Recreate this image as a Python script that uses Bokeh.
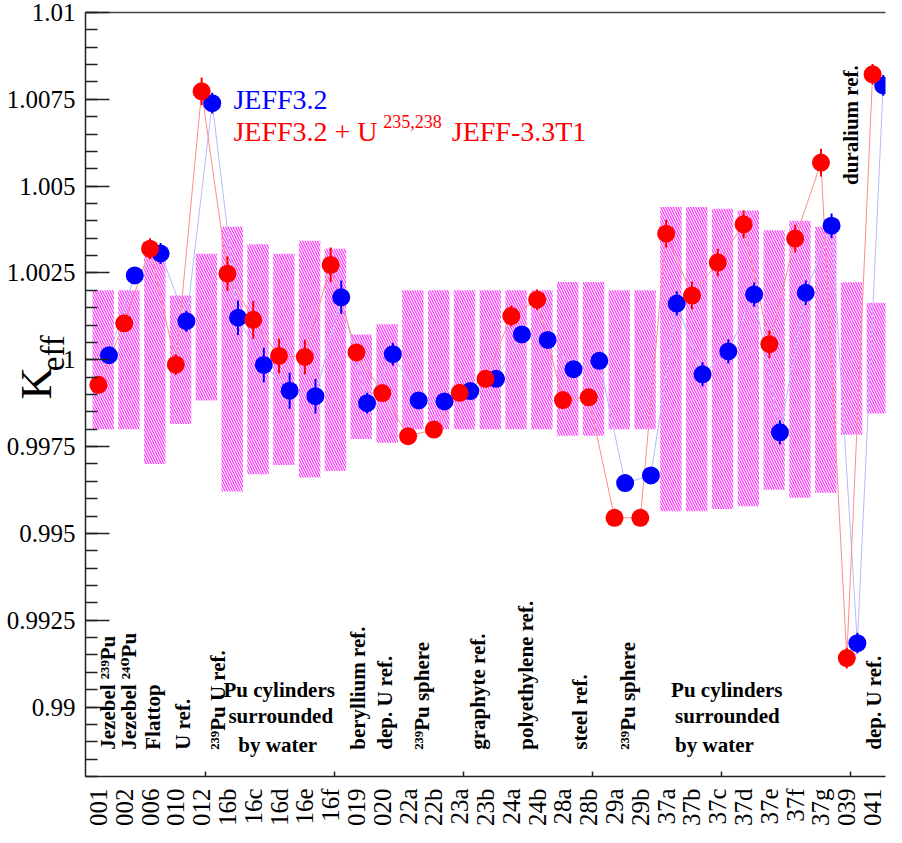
import math
import numpy as np
from bokeh.plotting import figure
from bokeh.models import Range1d, FixedTicker, Label, LinearAxis, ColumnDataSource
from bokeh.embed import file_html
from bokeh.resources import INLINE

# ---------------- data ----------------
cats = ["001", "002", "006", "010", "012", "16b", "16c", "16d", "16e", "16f",
        "019", "020", "22a", "22b", "23a", "23b", "24a", "24b", "28a", "28b",
        "29a", "29b", "37a", "37b", "37c", "37d", "37e", "37f", "37g", "039", "041"]

# JEFF3.2 + U235,238 JEFF-3.3T1 (red)
keff_red = [0.99928, 1.00105, 1.00320, 0.99986, 1.00773, 1.00248, 1.00115, 1.00011, 1.00008, 1.00273,
            1.00021, 0.99904, 0.99780, 0.99799, 0.99905, 0.99945, 1.00126, 1.00173, 0.99884, 0.99892,
            0.99545, 0.99545, 1.00363, 1.00185, 1.00280, 1.00390, 1.00045, 1.00349, 1.00568, 0.99141, 1.00822]
err_red = [0.0002, 0.0002, 0.0003, 0.0003, 0.0004, 0.0005, 0.00055, 0.0005, 0.0005, 0.0005,
           0.00025, 0.0002, 0.0002, 0.0002, 0.0002, 0.0002, 0.0003, 0.0003, 0.00025, 0.00025,
           0.0001, 0.0001, 0.0004, 0.0004, 0.0004, 0.0004, 0.0004, 0.0004, 0.0004, 0.0003, 0.0003]

# JEFF3.2 (blue)
keff_blue = [1.00013, 1.00243, 1.00306, 1.00111, 1.00739, 1.00121, 0.99985, 0.99911, 0.99895, 1.00180,
             0.99875, 1.00016, 0.99883, 0.99880, 0.99910, 0.99945, 1.00073, 1.00057, 0.99973, 0.99997,
             0.99645, 0.99667, 1.00162, 0.99958, 1.00024, 1.00188, 0.99791, 1.00193, 1.00386, 0.99184, 1.00790]
err_blue = [0.0002, 0.0002, 0.0003, 0.0003, 0.0003, 0.0005, 0.0005, 0.00052, 0.0005, 0.00048,
            0.0003, 0.00033, 0.0002, 0.0002, 0.0002, 0.0002, 0.0002, 0.0002, 0.0002, 0.0002,
            0.0001, 0.0001, 0.00035, 0.00035, 0.00035, 0.00035, 0.00035, 0.00035, 0.00035, 0.0003, 0.0003]

# experimental uncertainty bands
band_low = [0.9980, 0.9980, 0.9970, 0.99815, 0.99883, 0.99621, 0.99670, 0.99697, 0.99661, 0.99680,
            0.99772, 0.99761, 0.9980, 0.9980, 0.9980, 0.9980, 0.9980, 0.9980, 0.99781, 0.99781,
            0.9980, 0.9980, 0.99564, 0.99564, 0.99570, 0.99578, 0.99626, 0.99603, 0.99617, 0.99784, 0.99845]
band_high = [1.0020, 1.0020, 1.0030, 1.00185, 1.00305, 1.00383, 1.00333, 1.00305, 1.00343, 1.00320,
             1.00073, 1.00102, 1.0020, 1.0020, 1.0020, 1.0020, 1.0020, 1.0020, 1.00224, 1.00224,
             1.0020, 1.0020, 1.0044, 1.0044, 1.00435, 1.0043, 1.00373, 1.0040, 1.00383, 1.00223, 1.00164]

ytick_vals = [0.99, 0.9925, 0.995, 0.9975, 1.0, 1.0025, 1.005, 1.0075, 1.01]
ytick_labels = ["0.99", "0.9925", "0.995", "0.9975", "1", "1.0025", "1.005", "1.0075", "1.01"]

# ---------------- layout helpers (reference pixel -> data coords) ----------------
Y0, Y1 = 0.988, 1.01
def xpx(px):
    return (px - 93.0) / 26.0
def ypx(py):
    return Y1 - (py - 13.0) * (Y1 - Y0) / 771.0

N = len(cats)
xc = np.arange(N) + 0.5
x_red = xc
x_blue = xc + 0.41

src = ColumnDataSource(dict(
    xr=x_red, xb=x_blue,
    red=keff_red, blue=keff_blue,
    r_lo=np.array(keff_red) - np.array(err_red), r_hi=np.array(keff_red) + np.array(err_red),
    b_lo=np.array(keff_blue) - np.array(err_blue), b_hi=np.array(keff_blue) + np.array(err_blue),
    bl=xc - 0.23, br=xc + 0.60, lo=band_low, hi=band_high,
))

p = figure(width=886, height=832, x_range=Range1d(0, N), y_range=Range1d(Y0, Y1),
           output_backend="svg", toolbar_location=None,
           min_border_left=85, min_border_right=1, min_border_top=12, min_border_bottom=56)
p.xgrid.visible = False
p.ygrid.visible = False
p.outline_line_color = None
p.background_fill_color = "white"
p.border_fill_color = "white"

SERIF = "'Liberation Serif', 'Times New Roman', 'DejaVu Serif', serif"
NB = "\u00a0"

# y axis
ya = p.yaxis[0]
minor_y = [round(Y0 + 0.0005 * k, 4) for k in range(0, 45)]
ya.ticker = FixedTicker(ticks=ytick_vals, minor_ticks=minor_y)
ya.major_label_overrides = {v: s for v, s in zip(ytick_vals, ytick_labels)}
ya.major_tick_in = 24
ya.major_tick_out = 0
ya.minor_tick_in = 12
ya.minor_tick_out = 0
ya.major_tick_line_width = 1.5
ya.minor_tick_line_width = 1.5
ya.axis_line_width = 1.5
ya.axis_line_color = "#222222"
ya.major_tick_line_color = "#222222"
ya.minor_tick_line_color = "#222222"
ya.major_label_text_font = SERIF
ya.major_label_text_font_size = "25px"
ya.major_label_text_color = "black"
ya.major_label_standoff = 10
ya.axis_label = NB * 2 + "K"
ya.axis_label_text_font = SERIF
ya.axis_label_text_font_size = "45px"
ya.axis_label_text_font_style = "normal"
ya.axis_label_text_color = "black"
ya.axis_label_standoff = -57

# subscript "eff" of the y title, on an extra (tick-less) left axis
ax2 = LinearAxis(ticker=FixedTicker(ticks=[]), major_label_text_font_size="0px",
                 major_tick_in=0, major_tick_out=0, minor_tick_in=0, minor_tick_out=0,
                 major_label_standoff=0, axis_line_color=None,
                 axis_label=NB * 10 + "eff", axis_label_text_font=SERIF,
                 axis_label_text_font_size="33px", axis_label_text_font_style="normal",
                 axis_label_text_color="black", axis_label_standoff=-63)
p.add_layout(ax2, "left")

# x axis
xa = p.xaxis[0]
xa.ticker = FixedTicker(ticks=list(xc), minor_ticks=[4.65, 9.65, 14.65, 19.65, 24.65, 29.65])
xa.major_label_overrides = {float(v): s for v, s in zip(xc, cats)}
xa.major_label_orientation = math.pi / 2
xa.major_tick_in = 0
xa.major_tick_out = 0
xa.minor_tick_in = 5
xa.minor_tick_out = 0
xa.minor_tick_line_width = 1.5
xa.minor_tick_line_color = "#222222"
xa.axis_line_width = 1.5
xa.axis_line_color = "#222222"
xa.major_label_text_font = SERIF
xa.major_label_text_font_size = "25px"
xa.major_label_text_color = "black"
xa.major_label_standoff = 12

# top frame line
top = LinearAxis(ticker=FixedTicker(ticks=[]), major_label_text_font_size="0px",
                 major_tick_in=0, major_tick_out=0, minor_tick_in=0, minor_tick_out=0,
                 major_label_standoff=0, axis_line_width=1.5, axis_line_color="#444444")
p.add_layout(top, "above")

# bands
p.quad(left="bl", right="br", bottom="lo", top="hi", source=src,
       fill_color=None, line_color=None,
       hatch_pattern="left_diagonal_line", hatch_color="#ff30ff",
       hatch_scale=5, hatch_weight=1.2)

# connecting lines
p.line("xb", "blue", source=src, line_color="#b8b8ff", line_width=1)
p.line("xr", "red", source=src, line_color="#ff8c8c", line_width=1)

# error bars + markers
p.segment(x0="xb", y0="b_lo", x1="xb", y1="b_hi", source=src, line_color="#0000ff", line_width=2)
p.scatter("xb", "blue", source=src, size=18, fill_color="#0000ff", line_color=None)
p.segment(x0="xr", y0="r_lo", x1="xr", y1="r_hi", source=src, line_color="#ff0000", line_width=2)
p.scatter("xr", "red", source=src, size=18, fill_color="#ff0000", line_color=None)

# texts inside the frame
def lab(x, y, text, color="black", size="28px", style="normal", angle=0.0):
    p.add_layout(Label(x=x, y=y, text=text, text_color=color, text_font=SERIF,
                       text_font_size=size, text_font_style=style, angle=angle,
                       text_align="left", text_baseline="alphabetic"))

lab(xpx(242), ypx(101), "JEFF3.2", color="#0000ff")
lab(xpx(242), ypx(133), "JEFF3.2 + U", color="#ff0000")
lab(xpx(393), ypx(123), "235,238", color="#ff0000", size="18px")
lab(xpx(462), ypx(133), "JEFF-3.3T1", color="#ff0000")

# experiment group labels (vertical)
vlabels = [("Jezebel \u00b2\u00b3\u2079Pu", 116), ("Jezebel \u00b2\u2074\u2070Pu", 137),
           ("Flattop", 161), ("U ref.", 191), ("\u00b2\u00b3\u2079Pu U ref.", 226),
           ("beryllium ref.", 368), ("dep. U ref.", 395), ("\u00b2\u00b3\u2079Pu sphere", 432),
           ("graphyte ref.", 488), ("polyethylene ref.", 537), ("steel ref.", 591),
           ("\u00b2\u00b3\u2079Pu sphere", 640), ("dep. U ref.", 887)]
for t, px in vlabels:
    lab(xpx(px), ypx(757), t, size="21px", style="bold", angle=math.pi / 2)
lab(xpx(864), ypx(187), "duralium ref.", size="21px", style="bold", angle=math.pi / 2)

# horizontal group labels
for (px, py, t) in [(232, 697, "Pu cylinders"), (237, 723, "surrounded"), (247, 752, "by water"),
                    (683, 697, "Pu cylinders"), (687, 723, "surrounded"), (687, 752, "by water")]:
    lab(xpx(px), ypx(py), t, size="21px", style="bold")

open("out.html", "w").write(file_html(p, INLINE))
